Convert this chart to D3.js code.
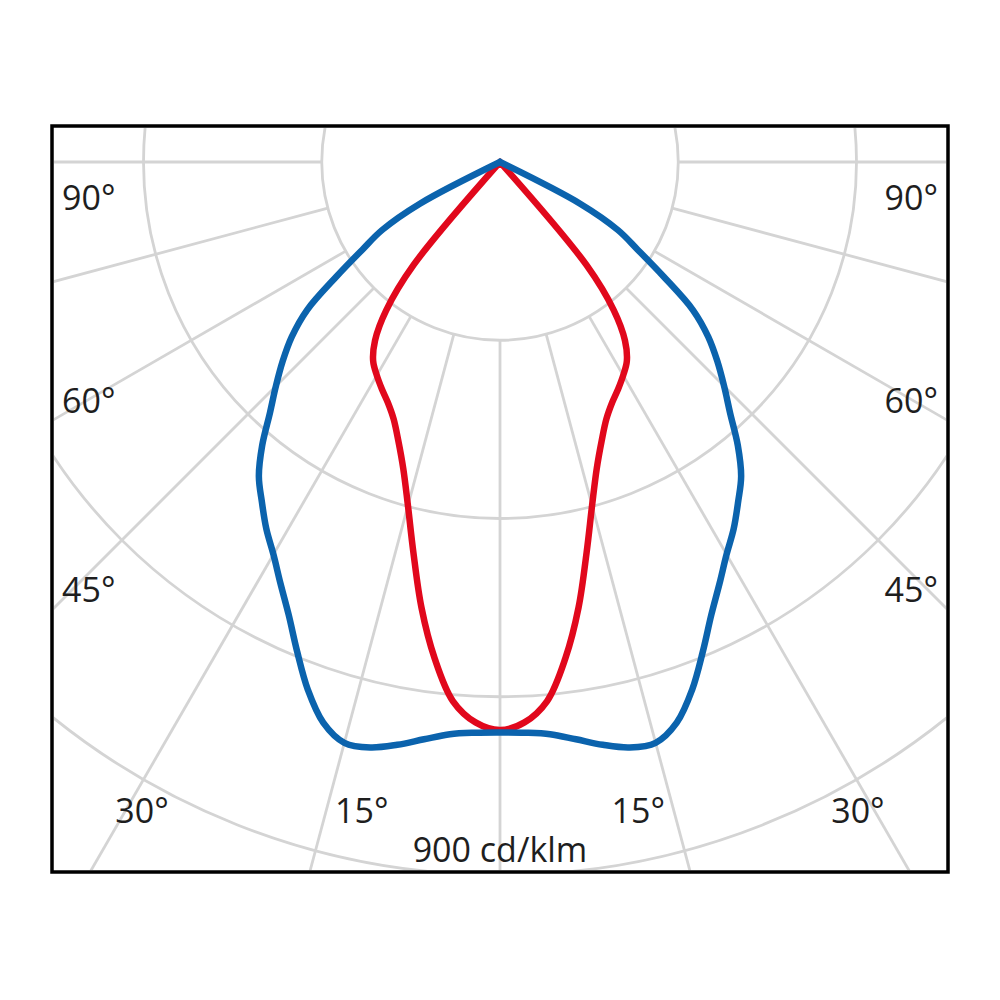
<!DOCTYPE html>
<html>
<head>
<meta charset="utf-8">
<script src="https://cdn.jsdelivr.net/npm/d3@7"></script>
<style>
  body { margin: 0; background: #fff; }
  text { font-family: "Open Sans", sans-serif; fill: #1e1e1e; }
</style>
</head>
<body>
<svg id="chart" width="1000" height="1000"></svg>
<script>
// gamma angles (deg from nadir), intensities in cd/klm
const angles = [0, 2.5, 5, 7.5, 10, 12.5, 15, 17.5, 20, 22.5, 25, 27.5, 30, 32.5, 35,
  37.5, 40, 42.5, 45, 47.5, 50, 52.5, 55, 57.5, 60, 62.5, 65, 67.5, 70];
const planeA = [720, 721, 725, 735, 747, 757, 759, 742, 709, 669, 631, 600, 572, 549, 524,
  500, 467, 430, 400, 372, 343, 307, 252, 206, 172, 114, 0, 0, 0];
const planeB = [717, 708, 683, 632, 571, 505, 449, 406, 375, 351, 335, 323, 311, 298, 275,
  236, 170, 0, 0, 0, 0, 0, 0, 0, 0, 0, 0, 0, 0];

const rings = [225, 450, 675, 900];
const rays = [0, 15, 30, 45, 60, 75, 90];
const sideLabels = [90, 60, 45];
const bottomLabels = [30, 15];
const unitLabel = "900 cd/klm";

const svg = d3.select("#chart");
const box = { left: 52, top: 126, right: 948, bottom: 872 };
const cx = 500, cy = 162;

const r = d3.scaleLinear().domain([0, 900]).range([0, 713]);
const rad = d => d * Math.PI / 180;

svg.append("clipPath").attr("id", "clip")
  .append("rect")
  .attr("x", box.left + 2).attr("y", box.top + 2)
  .attr("width", box.right - box.left - 4).attr("height", box.bottom - box.top - 4);

const grid = svg.append("g")
  .attr("clip-path", "url(#clip)")
  .attr("stroke", "#d4d4d4")
  .attr("stroke-width", 2.8)
  .attr("fill", "none");

grid.selectAll("circle")
  .data(rings)
  .enter()
  .append("circle")
  .attr("cx", cx).attr("cy", cy)
  .attr("r", d => r(d));

// rays on both sides, starting at the first ring
const rayData = rays.flatMap(a => a === 0 ? [0] : [-a, a]);
grid.selectAll("line")
  .data(rayData)
  .enter()
  .append("line")
  .attr("x1", d => cx + r(rings[0]) * Math.sin(rad(d)))
  .attr("y1", d => cy + r(rings[0]) * Math.cos(rad(d)))
  .attr("x2", d => cx + 1400 * Math.sin(rad(d)))
  .attr("y2", d => cy + 1400 * Math.cos(rad(d)));

// curve through both halves of a plane
function planePoints(vals) {
  const last = vals.indexOf(0);
  const n = last < 0 ? vals.length : last + 1;
  const pts = [];
  for (let i = n - 1; i > 0; i--) pts.push({ a: Math.PI + rad(angles[i]), v: vals[i] });
  for (let i = 0; i < n; i++) pts.push({ a: Math.PI - rad(angles[i]), v: vals[i] });
  return pts;
}

const line = d3.lineRadial()
  .angle(d => d.a)
  .radius(d => r(d.v))
  .curve(d3.curveCatmullRom.alpha(0.5));

const curves = svg.append("g").attr("transform", `translate(${cx},${cy})`);

curves.selectAll("path")
  .data([
    { vals: planeB, color: "#e1081c" },
    { vals: planeA, color: "#0b63ad" }
  ])
  .enter()
  .append("path")
  .attr("d", d => line(planePoints(d.vals)))
  .attr("fill", "none")
  .attr("stroke", d => d.color)
  .attr("stroke-width", 6.5)
  .attr("stroke-linejoin", "round")
  .attr("stroke-linecap", "round");

// angle labels
const halfW = cx - box.left;
const labels = svg.append("g").attr("font-size", 34);

sideLabels.forEach(a => {
  const hitY = a === 90 ? cy : cy + halfW / Math.tan(rad(a));
  const y = a === 90 ? hitY + 48 : hitY - 8;
  labels.append("text").attr("x", box.left + 10).attr("y", y)
    .attr("text-anchor", "start").text(a + "°");
  labels.append("text").attr("x", box.right - 10).attr("y", y)
    .attr("text-anchor", "end").text(a + "°");
});

bottomLabels.forEach(a => {
  const dx = (box.bottom - cy) * Math.tan(rad(a));
  const y = box.bottom - 49;
  labels.append("text").attr("x", cx - dx + 52).attr("y", y)
    .attr("text-anchor", "middle").text(a + "°");
  labels.append("text").attr("x", cx + dx - 52).attr("y", y)
    .attr("text-anchor", "middle").text(a + "°");
});

labels.append("text")
  .attr("x", cx).attr("y", box.bottom - 10)
  .attr("text-anchor", "middle")
  .text(unitLabel);

svg.append("rect")
  .attr("x", box.left).attr("y", box.top)
  .attr("width", box.right - box.left).attr("height", box.bottom - box.top)
  .attr("fill", "none")
  .attr("stroke", "#000")
  .attr("stroke-width", 3.5);
</script>
</body>
</html>
